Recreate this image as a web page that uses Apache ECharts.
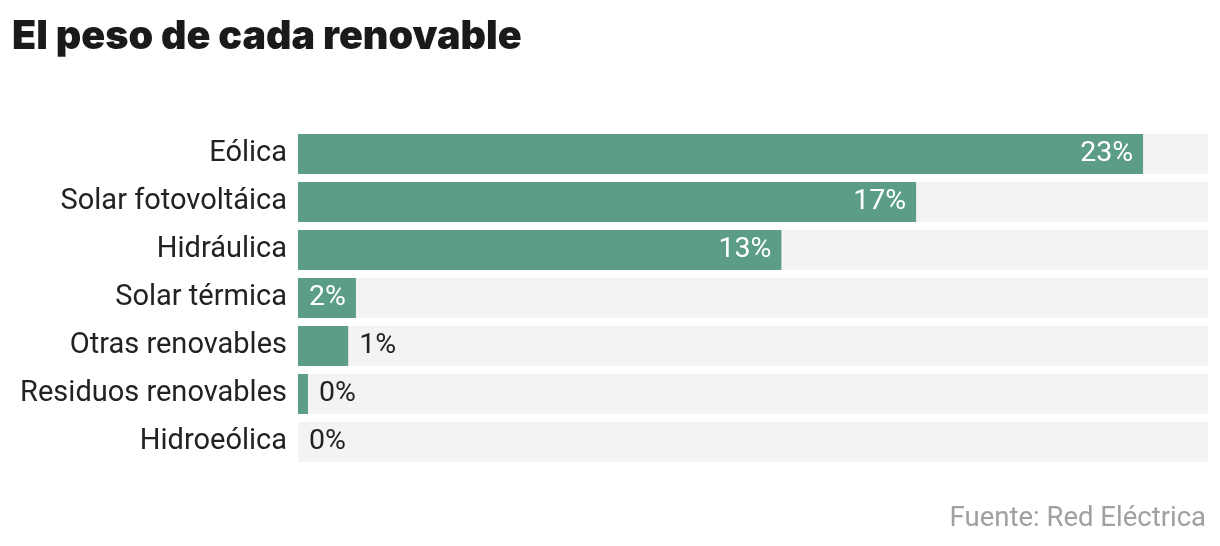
<!DOCTYPE html>
<html><head><meta charset="utf-8">
<script src="https://cdn.jsdelivr.net/npm/echarts@6/dist/echarts.min.js"></script>
<style>html,body{margin:0;padding:0;background:#fff}#c{width:1220px;height:546px}</style>
</head><body><div id="c"></div>
<script>
const categories = ["Eólica","Solar fotovoltáica","Hidráulica","Solar térmica","Otras renovables","Residuos renovables","Hidroeólica"];
const values = [22.9, 16.75, 13.1, 1.57, 1.36, 0.27, 0.0];
const axisMax = 24.66;
const insideThreshold = 1.5;

const chart = echarts.init(document.getElementById('c'));
chart.setOption({
  animation: false,
  title: [
    {text: 'El peso de cada renovable', left: 7, top: 12,
     textStyle: {fontFamily: 'Inter', fontWeight: 900, fontSize: 39.5, color: '#1a1a1a'}},
    {text: 'Fuente: Red Eléctrica', right: 9, top: 500,
     textStyle: {fontFamily: 'Roboto', fontWeight: 400, fontSize: 27.5, color: '#a0a0a0'}}
  ],
  grid: {left: 298, right: 12, top: 130, height: 336},
  xAxis: {type: 'value', min: 0, max: axisMax, show: false},
  yAxis: {type: 'category', data: categories, inverse: true,
    axisLine: {show: false}, axisTick: {show: false},
    axisLabel: {margin: 11, fontFamily: 'Roboto', fontSize: 29, color: '#222'}},
  series: [{
    type: 'bar', barWidth: 40,
    showBackground: true, backgroundStyle: {color: '#f3f3f3'},
    itemStyle: {color: '#5b9e85'},
    data: values.map(v => ({
      value: v,
      label: v >= insideThreshold
        ? {show: true, position: 'insideRight', distance: 10, color: '#fff'}
        : {show: true, position: 'right', distance: 11, color: '#222'}
    })),
    label: {show: true, fontFamily: 'Roboto', fontSize: 28.5,
      formatter: p => Math.round(p.value) + '%'}
  }]
});
</script></body></html>
